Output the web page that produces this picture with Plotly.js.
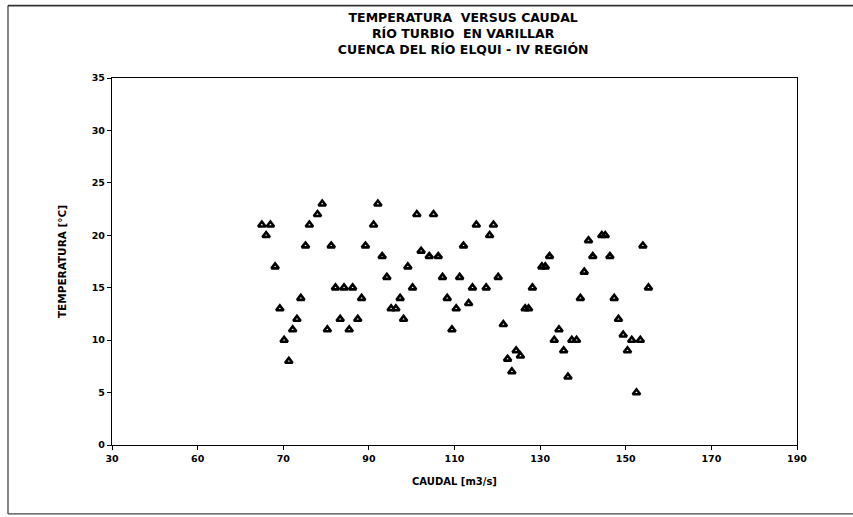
<!DOCTYPE html>
<html>
<head>
<meta charset="utf-8">
<script src="https://cdn.plot.ly/plotly-3.0.1.min.js"></script>
<style>
html,body{margin:0;padding:0;background:#fff;}
#chart{width:853px;height:517px;}
</style>
</head>
<body>
<div id="chart"></div>
<script>
// Caudal [m3/s]
const caudal = [
  65.0, 66.0, 67.0, 68.1, 69.2, 70.2, 71.3, 72.2, 73.2, 74.1,
  75.2, 76.1, 78.0, 79.1, 80.3, 81.2, 82.2, 83.3, 84.2, 85.4,
  86.2, 87.4, 88.3, 89.2, 91.1, 92.1, 93.1, 94.2, 95.2, 96.3,
  97.3, 98.1, 99.1, 100.2, 101.2, 102.2, 104.1, 105.1, 106.2, 107.2,
  108.3, 109.4, 110.4, 111.2, 112.1, 113.3, 114.2, 115.1, 117.4, 118.2,
  119.1, 120.2, 121.4, 122.4, 123.4, 124.4, 125.4, 126.5, 127.3, 128.2,
  130.4, 131.2, 132.2, 133.3, 134.4, 135.5, 136.5, 137.4, 138.5, 139.4,
  140.3, 141.3, 142.3, 144.4, 145.2, 146.3, 147.3, 148.3, 149.4, 150.4,
  151.4, 152.5, 153.4, 154.0, 155.3
];
// Temperatura [°C]
const temperatura = [
  21, 20, 21, 17, 13, 10, 8, 11, 12, 14,
  19, 21, 22, 23, 11, 19, 15, 12, 15, 11,
  15, 12, 14, 19, 21, 23, 18, 16, 13, 13,
  14, 12, 17, 15, 22, 18.5, 18, 22, 18, 16,
  14, 11, 13, 16, 19, 13.5, 15, 21, 15, 20,
  21, 16, 11.5, 8.2, 7, 9, 8.5, 13, 13, 15,
  17, 17, 18, 10, 11, 9, 6.5, 10, 10, 14,
  16.5, 19.5, 18, 20, 20, 18, 14, 12, 10.5, 9,
  10, 5, 10, 19, 15
];
const xTickVals = [30, 50, 70, 90, 110, 130, 150, 170, 190];
const xTickText = ['30', '60', '70', '90', '110', '130', '150', '170', '190'];
const yTickVals = [0, 5, 10, 15, 20, 25, 30, 35];

const F = 'DejaVu Sans, Verdana, sans-serif';

const trace = {
  type: 'scatter',
  mode: 'markers',
  x: caudal,
  y: temperatura,
  marker: {
    symbol: 'triangle-up-open',
    size: 6.5,
    color: '#000',
    line: {color: '#000', width: 2.6}
  },
  hoverinfo: 'x+y'
};

// pixel -> paper helpers for frame
const L = 112, R = 56, T = 77.5, B = 72, W = 853, H = 517;
const pw = W - L - R, ph = H - T - B;
const px = v => (v - L) / pw;
const py = v => 1 - (v - T) / ph;

const layout = {
  width: W, height: H,
  margin: {l: L, r: R, t: T, b: B, pad: 0},
  paper_bgcolor: '#fff',
  plot_bgcolor: '#fff',
  showlegend: false,
  title: {
    text: 'TEMPERATURA  VERSUS CAUDAL<br>RÍO TURBIO  EN VARILLAR<br>CUENCA DEL RÍO ELQUI - IV REGIÓN',
    font: {family: F, size: 12.5, color: '#000', weight: 'bold'},
    xref: 'container', x: 0.543, xanchor: 'center',
    yref: 'container', y: 0.958, yanchor: 'top'
  },
  xaxis: {
    range: [30, 190],
    tickmode: 'array', tickvals: xTickVals, ticktext: xTickText,
    ticks: 'outside', ticklen: 4, tickwidth: 1.2, tickcolor: '#000',
    showgrid: false, zeroline: false,
    showline: true, linecolor: '#000', linewidth: 1.3, mirror: true,
    tickfont: {family: F, size: 9.5, color: '#000', weight: 'bold'},
    title: {text: 'CAUDAL [m3/s]', font: {family: F, size: 10, color: '#000', weight: 'bold'}, standoff: 15}
  },
  yaxis: {
    range: [0, 35],
    tickmode: 'array', tickvals: yTickVals,
    ticks: 'outside', ticklen: 4, tickwidth: 1.2, tickcolor: '#000',
    showgrid: false, zeroline: false,
    showline: true, linecolor: '#000', linewidth: 1.3, mirror: true,
    tickfont: {family: F, size: 9.5, color: '#000', weight: 'bold'},
    title: {text: 'TEMPERATURA [°C]', font: {family: F, size: 10.5, color: '#000', weight: 'bold'}, standoff: 23}
  },
  shapes: [
    {type: 'line', xref: 'paper', yref: 'paper', x0: px(8), x1: px(8), y0: py(5), y1: py(514), line: {color: '#444', width: 1.3}},
    {type: 'line', xref: 'paper', yref: 'paper', x0: px(8), x1: px(853), y0: py(514), y1: py(514), line: {color: '#444', width: 1.3}},
    {type: 'line', xref: 'paper', yref: 'paper', x0: px(8), x1: px(853), y0: py(5), y1: py(5), line: {color: '#333', width: 1.6}}
  ]
};

Plotly.newPlot('chart', [trace], layout, {displayModeBar: false, responsive: false});
</script>
</body>
</html>
